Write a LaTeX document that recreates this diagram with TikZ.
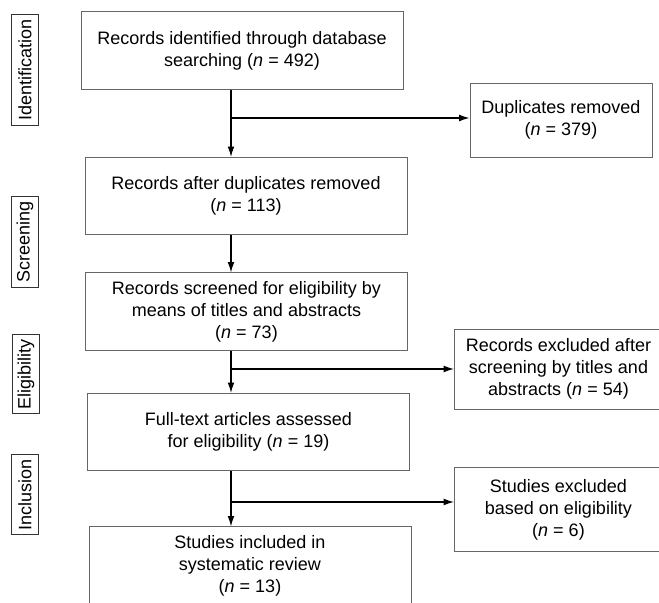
\documentclass[tikz,border=0pt]{standalone}
\usepackage{fontspec}
\setmainfont{Liberation Sans}
\usepackage{tikz}
\usetikzlibrary{arrows.meta,positioning,calc}

\begin{document}
\begin{tikzpicture}[
    x=0.025cm, y=-0.025cm,
    font=\fontsize{12.8}{15.6}\selectfont,
    stage/.style={rectangle, draw=black!60, line width=0.6pt, align=center, inner sep=0pt, minimum width=8.05cm, minimum height=1.93cm},
    side/.style={rectangle, draw=black!60, line width=0.6pt, align=center, inner sep=0pt, minimum width=5.2cm, minimum height=2.0cm},
    phase/.style={rectangle, draw=black!80, line width=0.6pt, rotate=90, inner xsep=0.12cm, inner ysep=0pt, minimum height=0.66cm},
    flow/.style={-{Latex[length=2.6mm,width=1.7mm]}, line width=0.9pt}
]
    \useasboundingbox (0,0) rectangle (659,603);

    % Phases on the left
    \node[phase] (ident) at (25,70) {Identification};
    \node[phase] (screen) at (25,242) {Screening};
    \node[phase] (elig) at (26,374) {Eligibility};
    \node[phase] (incl) at (25,494.5) {Inclusion};

    % Main column
    \node[stage] (found) at (242,50.5) {Records identified through database\\searching (\textit{n} = 492)};
    \node[stage] (nodup) at (246,196) {Records after duplicates removed\\(\textit{n} = 113)};
    \node[stage] (screened) at (246.5,311.5) {Records screened for eligibility by\\means of titles and abstracts\\(\textit{n} = 73)};
    \node[stage] (fulltext) at (248.5,432) {Full-text articles assessed\\for eligibility (\textit{n} = 19)};
    \node[stage] (included) at (250,565.5) {Studies included in\\systematic review\\(\textit{n} = 13)};

    % Exclusions on the right
    \node[stage, minimum width=4.55cm, minimum height=1.85cm] (dup) at (561,120) {Duplicates removed\\(\textit{n} = 379)};
    \node[side] (excl) at (558.5,369) {Records excluded after\\screening by titles and\\abstracts (\textit{n} = 54)};
    \node[side, minimum height=2.08cm] (exclfull) at (558.5,509.5) {Studies excluded\\based on eligibility\\(\textit{n} = 6)};

    % Flow down the spine
    \coordinate (spine) at (231,0);
    \draw[flow] (spine |- found.south) -- (spine |- nodup.north);
    \draw[flow] (spine |- nodup.south) -- (spine |- screened.north);
    \draw[flow] (spine |- screened.south) -- (spine |- fulltext.north);
    \draw[flow] (spine |- fulltext.south) -- (spine |- included.north);

    % Branches to the right
    \coordinate (b1) at (231,118);
    \coordinate (b2) at (231,369);
    \coordinate (b3) at (231,502);
    \draw[flow] (b1) -- (b1 -| dup.west);
    \draw[flow] (b2) -- (b2 -| excl.west);
    \draw[flow] (b3) -- (b3 -| exclfull.west);
\end{tikzpicture}
\end{document}
